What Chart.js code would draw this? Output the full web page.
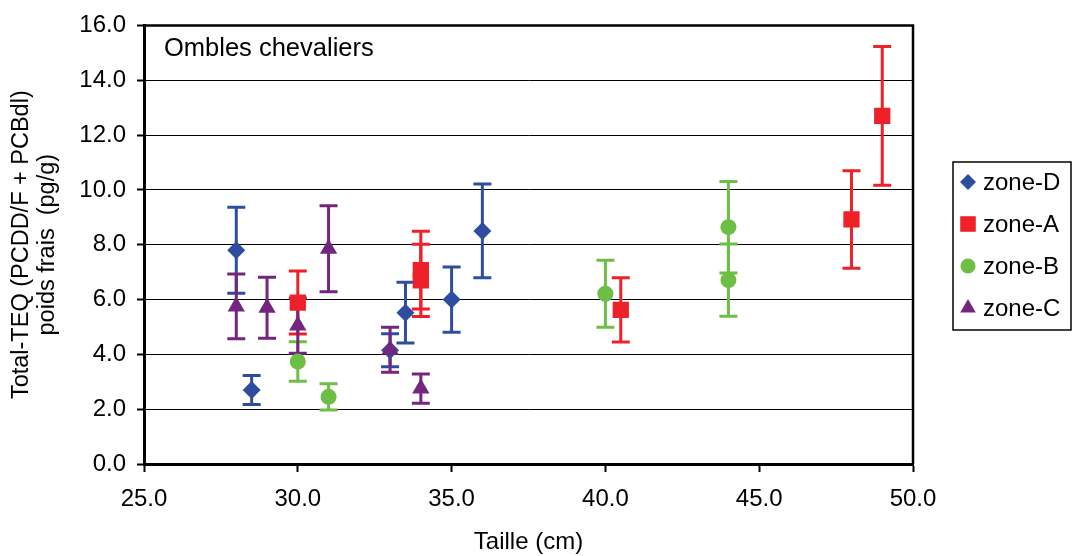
<!DOCTYPE html>
<html>
<head>
<meta charset="utf-8">
<script src="https://cdn.jsdelivr.net/npm/chart.js"></script>
<style>
  html, body { margin: 0; padding: 0; background: #fff; }
  #wrap { width: 1072px; height: 556px; }
</style>
</head>
<body>
<div id="wrap"><canvas id="teqChart"></canvas></div>
<script>
const xTicks = [25, 30, 35, 40, 45, 50];
const yTicks = [0, 2, 4, 6, 8, 10, 12, 14, 16];

// taille (cm), TEQ (pg/g) and +/- error for each zone
const zoneDX = [28, 28.5, 33, 33.5, 35, 36];
const zoneDY = [7.8, 2.7, 4.15, 5.52, 6.0, 8.5];
const zoneDErr = [1.57, 0.53, 0.6, 1.11, 1.19, 1.71];

const zoneAX = [30, 34, 34, 40.5, 48, 49];
const zoneAY = [5.89, 7.07, 6.7, 5.62, 8.92, 12.7];
const zoneAErr = [1.15, 1.42, 1.32, 1.17, 1.78, 2.53];

const zoneBX = [30, 31, 40, 44, 44];
const zoneBY = [3.74, 2.45, 6.21, 8.64, 6.71];
const zoneBErr = [0.72, 0.48, 1.22, 1.67, 1.32];

const zoneCX = [28, 29, 30, 31, 33, 34];
const zoneCY = [5.75, 5.7, 5.05, 7.85, 4.17, 2.75];
const zoneCErr = [1.18, 1.11, 1.01, 1.57, 0.82, 0.53];

const FONT = "'Liberation Sans', Arial, sans-serif";

function pts(xs, ys) {
  return xs.map((x, i) => ({ x: x, y: ys[i] }));
}

const errorBars = {
  id: 'errorBars',
  beforeDatasetsDraw(chart) {
    const { ctx, scales: { x, y } } = chart;
    ctx.save();
    chart.data.datasets.forEach(ds => {
      ctx.strokeStyle = ds.backgroundColor;
      ctx.lineWidth = 3;
      ds.data.forEach((p, i) => {
        const px = x.getPixelForValue(p.x);
        const top = y.getPixelForValue(p.y + ds.errors[i]);
        const bot = y.getPixelForValue(p.y - ds.errors[i]);
        ctx.beginPath();
        ctx.moveTo(px, top); ctx.lineTo(px, bot);
        ctx.moveTo(px - 9, top); ctx.lineTo(px + 9, top);
        ctx.moveTo(px - 9, bot); ctx.lineTo(px + 9, bot);
        ctx.stroke();
      });
    });
    ctx.restore();
  }
};

// top and right edges of the plot frame, plus the inner title
const frameAndTitle = {
  id: 'frameAndTitle',
  beforeDatasetsDraw(chart) {
    const { ctx, chartArea: a } = chart;
    ctx.save();
    ctx.strokeStyle = '#000';
    ctx.lineWidth = 2.5;
    ctx.beginPath();
    ctx.moveTo(a.left, a.top);
    ctx.lineTo(a.right, a.top);
    ctx.lineTo(a.right, a.bottom);
    ctx.stroke();
    ctx.fillStyle = '#000';
    ctx.font = '25.5px ' + FONT;
    ctx.textBaseline = 'alphabetic';
    ctx.fillText('Ombles chevaliers', a.left + 20, a.top + 31);
    ctx.restore();
  }
};

const boxLegend = {
  id: 'boxLegend',
  afterDraw(chart) {
    const ctx = chart.ctx;
    const left = 953, top = 162, w = 118, h = 168;
    ctx.save();
    ctx.strokeStyle = '#000';
    ctx.lineWidth = 1.5;
    ctx.strokeRect(left, top, w, h);
    ctx.font = '24px ' + FONT;
    ctx.textBaseline = 'middle';
    chart.data.datasets.forEach((ds, i) => {
      const cy = top + 20 + i * 42;
      ctx.fillStyle = ds.backgroundColor;
      Chart.helpers.drawPoint(ctx, {
        pointStyle: ds.pointStyle, radius: ds.legendRadius, rotation: 0, borderWidth: 0
      }, left + 15, cy);
      ctx.fillStyle = '#000';
      ctx.fillText(ds.label, left + 30, cy + 1);
    });
    ctx.restore();
  }
};

new Chart(document.getElementById('teqChart'), {
  type: 'scatter',
  data: {
    datasets: [
      { label: 'zone-D', data: pts(zoneDX, zoneDY), errors: zoneDErr, order: 4,
        backgroundColor: '#2E4D9F', pointStyle: 'rectRot', pointRadius: 9, legendRadius: 8 },
      { label: 'zone-A', data: pts(zoneAX, zoneAY), errors: zoneAErr, order: 3,
        backgroundColor: '#EE2128', pointStyle: 'rect', pointRadius: 11.5, legendRadius: 11 },
      { label: 'zone-B', data: pts(zoneBX, zoneBY), errors: zoneBErr, order: 2,
        backgroundColor: '#6CBE45', pointStyle: 'circle', pointRadius: 8, legendRadius: 7.5 },
      { label: 'zone-C', data: pts(zoneCX, zoneCY), errors: zoneCErr, order: 1,
        backgroundColor: '#74267F', pointStyle: 'triangle', pointRadius: 10, legendRadius: 9 }
    ].map(ds => Object.assign(ds, {
      borderWidth: 0,
      pointBorderWidth: 0,
      pointBackgroundColor: ds.backgroundColor,
      pointHoverRadius: ds.pointRadius
    }))
  },
  options: {
    responsive: true,
    maintainAspectRatio: false,
    animation: false,
    layout: { padding: { top: 25, right: 159, bottom: 0, left: 0 } },
    plugins: {
      legend: { display: false },
      tooltip: { enabled: false }
    },
    scales: {
      x: {
        type: 'linear',
        min: 25,
        max: 50,
        afterBuildTicks: s => { s.ticks = xTicks.map(v => ({ value: v })); },
        afterFit: s => { s.height = 92; },
        ticks: { callback: v => v.toFixed(1), color: '#000', padding: 13, font: { family: FONT, size: 24 } },
        grid: { drawOnChartArea: false, drawTicks: true, tickLength: 8, tickWidth: 2, tickColor: '#000' },
        border: { color: '#000', width: 3 },
        title: { display: true, text: 'Taille (cm)', color: '#000',
                 font: { family: FONT, size: 24, lineHeight: 1.1 }, padding: { top: 0, bottom: 0 } }
      },
      y: {
        min: 0,
        max: 16,
        afterBuildTicks: s => { s.ticks = yTicks.map(v => ({ value: v })); },
        afterFit: s => { s.width = 144; },
        ticks: { callback: v => v.toFixed(1), color: '#000', padding: 11, font: { family: FONT, size: 24 } },
        grid: { color: '#000', lineWidth: 1, tickLength: 7, tickWidth: 2, tickColor: '#000' },
        border: { color: '#000', width: 3 },
        title: { display: true, text: ['Total-TEQ (PCDD/F + PCBdl)', 'poids frais  (pg/g)'], color: '#000',
                 font: { family: FONT, size: 23.5, lineHeight: 1.1 }, padding: { top: 9, bottom: 0 } }
      }
    }
  },
  plugins: [errorBars, frameAndTitle, boxLegend]
});
</script>
</body>
</html>
